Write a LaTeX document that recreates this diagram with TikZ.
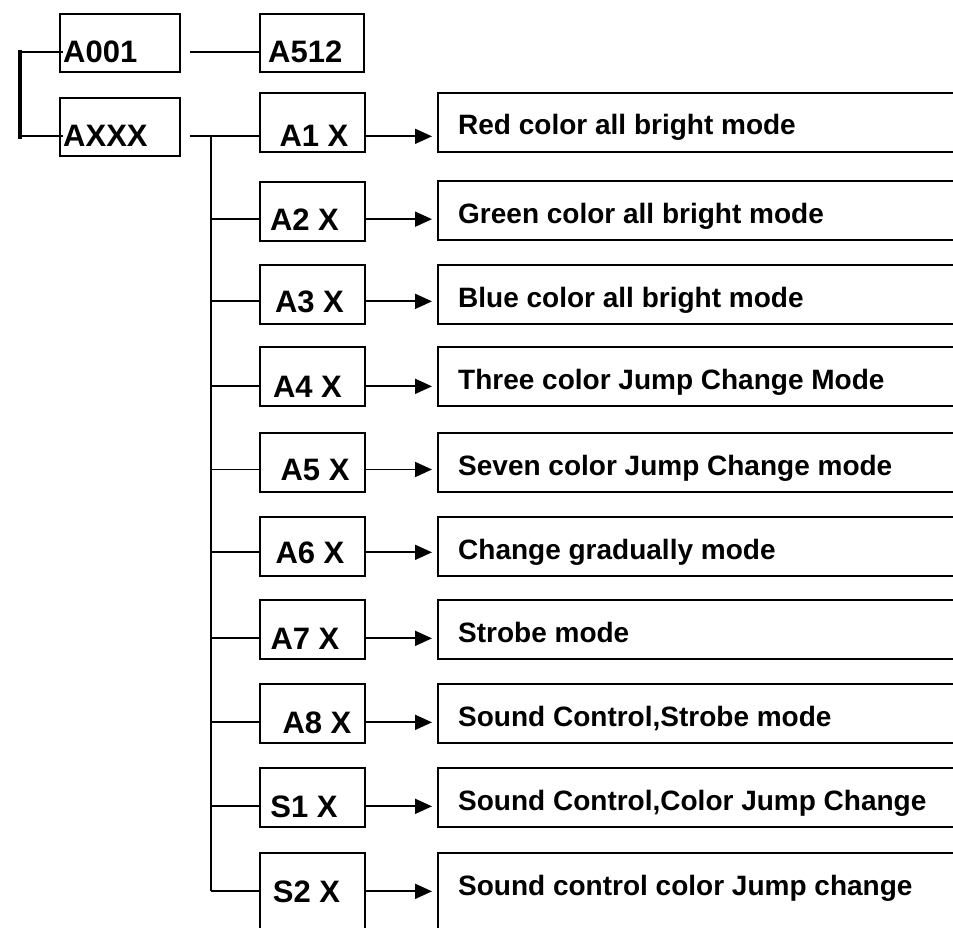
\documentclass[tikz,border=0pt]{standalone}
\usepackage{fontspec}
\setmainfont{Liberation Sans}
\usetikzlibrary{arrows.meta}
\begin{document}
\begin{tikzpicture}[x=1pt,y=-1pt,
  box/.style={draw,line width=2.2pt,minimum width=105pt,minimum height=59pt,inner sep=0pt,anchor=north west},
  topbox/.style={box,minimum width=120pt,minimum height=58pt},
  wbox/.style={draw,line width=2.2pt,minimum width=560pt,minimum height=59pt,inner sep=0pt,anchor=north west},
  lbl/.style={font=\fontsize{31}{31}\selectfont\bfseries,inner sep=0pt,anchor=base},
  lblw/.style={lbl,anchor=base west},
  desc/.style={font=\fontsize{28}{28}\selectfont\bfseries,inner sep=0pt,anchor=base west},
  conn/.style={line width=1.8pt},
  arr/.style={conn,-{Triangle[length=17pt,width=15pt]},shorten >=5pt},
  bracket/.style={line width=4.5pt,line cap=rect}]
\useasboundingbox[fill=white] (0,0) rectangle (953,928);
\clip (0,0) rectangle (953,928);

% top boxes
\node[topbox] (a001) at (59,13) {};
\node[lblw] (a001t) at (63,63) {A001};
\node[box,minimum width=104pt,minimum height=58pt] (a512) at (259,13) {};
\node[lblw] (a512t) at (268,63) {A512};
\node[topbox] (axxx) at (59,97) {};
\node[lblw] (axxxt) at (63,147) {AXXX};

% left boxes
\node[box] (a1) at (259,92) {};  \node[lbl] (a1t) at (314,147) {A1 X};
\node[box] (a2) at (259,181) {}; \node[lbl] (a2t) at (304.5,230) {A2 X};
\node[box] (a3) at (259,264) {}; \node[lbl] (a3t) at (309.5,312) {A3 X};
\node[box] (a4) at (259,346) {}; \node[lbl] (a4t) at (307.5,397) {A4 X};
\node[box] (a5) at (259,432) {}; \node[lbl] (a5t) at (315,480) {A5 X};
\node[box] (a6) at (259,516) {}; \node[lbl] (a6t) at (310,563) {A6 X};
\node[box] (a7) at (259,599) {}; \node[lbl] (a7t) at (305,649) {A7 X};
\node[box] (a8) at (259,683) {}; \node[lbl] (a8t) at (317,733) {A8 X};
\node[box] (s1) at (259,767) {}; \node[lbl] (s1t) at (304,817) {S1 X};
\node[box,minimum height=100pt] (s2) at (259,852) {}; \node[lbl] (s2t) at (306.5,902) {S2 X};

% right boxes
\node[wbox] (r1) at (437,92) {};  \node[desc] (r1t) at (458,135) {Red color all bright mode};
\node[wbox] (r2) at (437,180) {}; \node[desc] (r2t) at (458,223) {Green color all bright mode};
\node[wbox] (r3) at (437,264) {}; \node[desc] (r3t) at (458,307) {Blue color all bright mode};
\node[wbox] (r4) at (437,346) {}; \node[desc] (r4t) at (458,389) {Three color Jump Change Mode};
\node[wbox] (r5) at (437,432) {}; \node[desc] (r5t) at (458,475) {Seven color Jump Change mode};
\node[wbox] (r6) at (437,516) {}; \node[desc] (r6t) at (458,559) {Change gradually mode};
\node[wbox] (r7) at (437,599) {}; \node[desc] (r7t) at (458,642) {Strobe mode};
\node[wbox] (r8) at (437,683) {}; \node[desc] (r8t) at (458,726) {Sound Control,Strobe mode};
\node[wbox] (r9) at (437,767) {}; \node[desc] (r9t) at (458,810) {Sound Control,Color Jump Change};
\node[wbox,minimum height=100pt] (r10) at (437,852) {}; \node[desc] (r10t) at (458,895) {Sound control color Jump change};

% bracket on the left
\coordinate (bk) at (20,0);
\draw[bracket] (a001t -| bk) -- (axxxt -| bk);
\draw[conn] (a001t -| bk) -- (a001t.west);
\draw[conn] (axxxt -| bk) -- (axxxt.west);

% top connectors
\draw[conn] ([xshift=9pt]a001.east |- a001t) -- (a512t -| a512.west);
\draw[conn] ([xshift=9pt]axxx.east |- axxxt) -- (a1t -| a1.west);

% trunk
\coordinate (tj) at (211,0);
\draw[conn] (tj |- axxxt) -- (tj |- s2t);
\foreach \b in {a2,a3,a4,a5,a6,a7,a8,s1,s2}{
  \draw[conn] (tj |- \b t) -- (\b t -| \b.west);
}

% arrows
\foreach \b/\r in {a1/r1,a2/r2,a3/r3,a4/r4,a5/r5,a6/r6,a7/r7,a8/r8,s1/r9,s2/r10}{
  \draw[arr] (\b.east |- \b t) -- (\r.west |- \b t);
}
\end{tikzpicture}
\end{document}
